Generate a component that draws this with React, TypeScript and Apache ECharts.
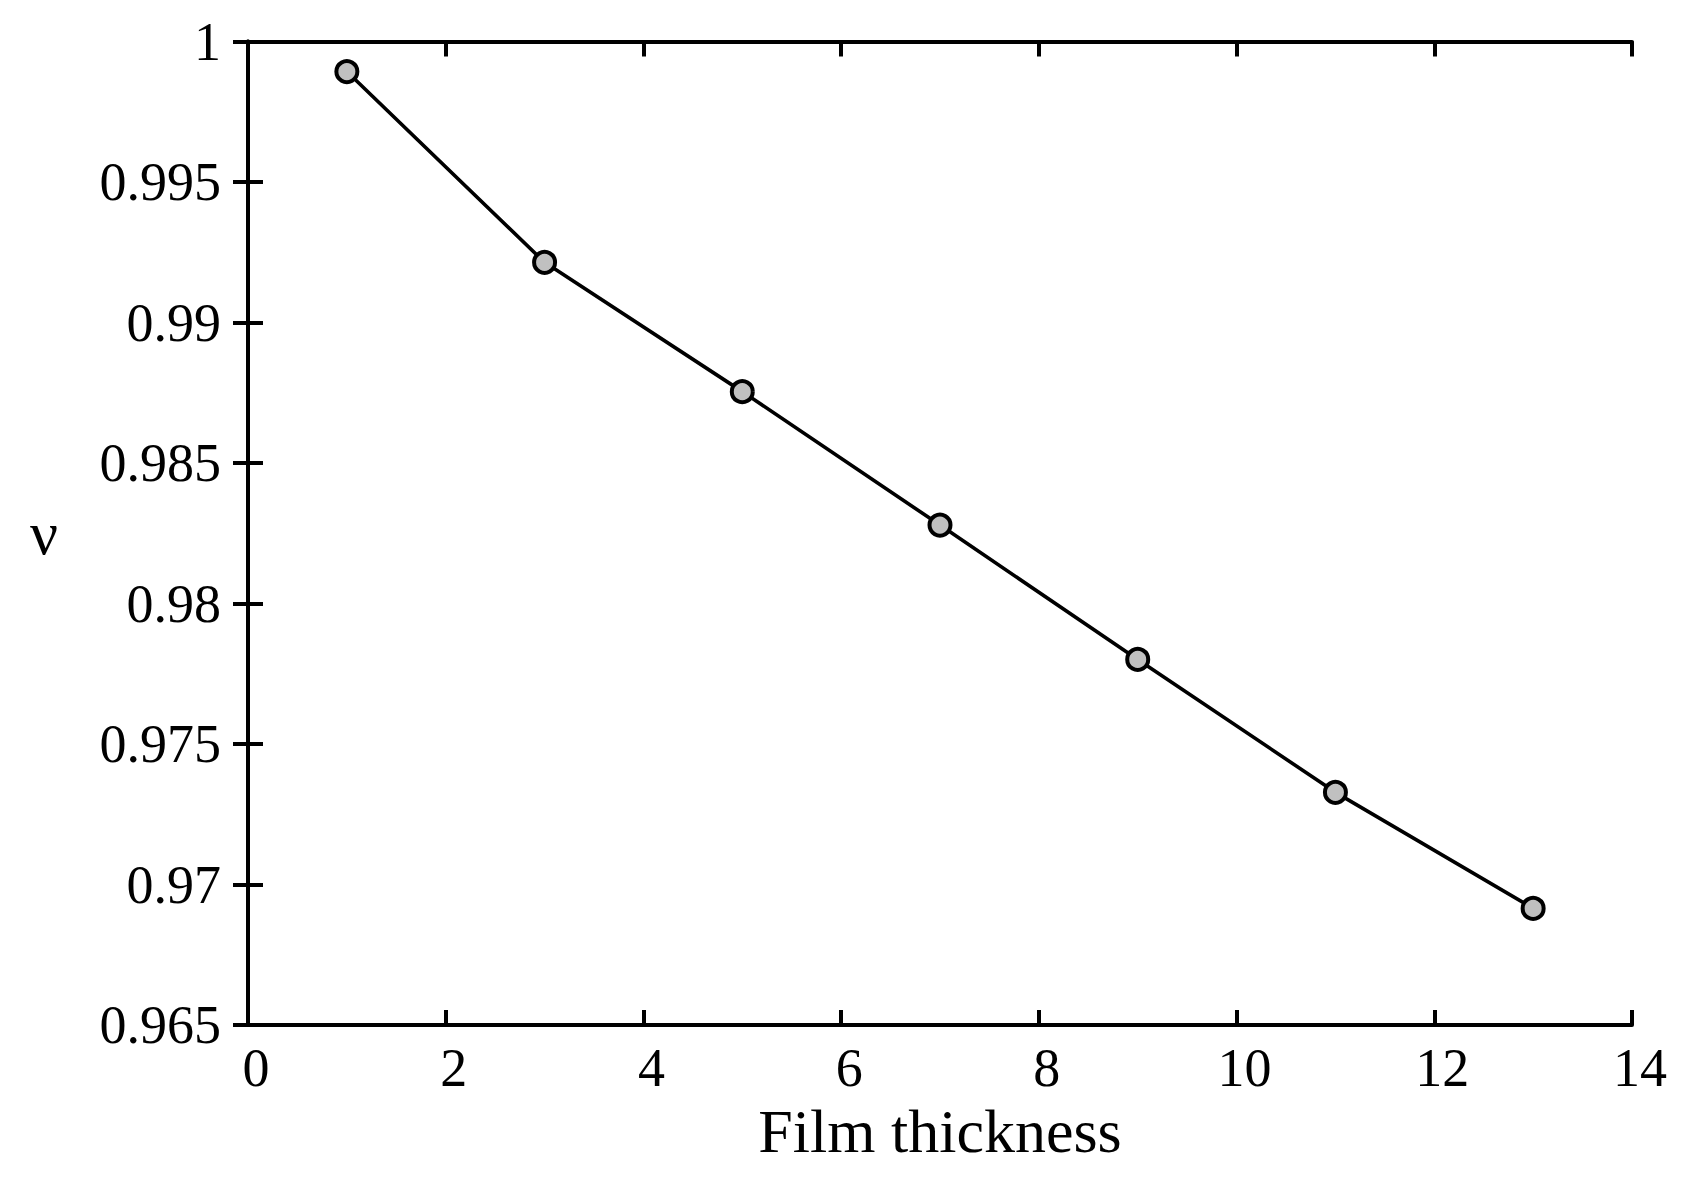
import React, { useEffect, useRef } from "react";
import * as echarts from "echarts";

const filmThickness = [1, 3, 5, 7, 9, 11, 13];
const nuValues = [0.99893, 0.99214, 0.98754, 0.98279, 0.97801, 0.97328, 0.96915];
const xTitle = "Film thickness";
const yTitle = "ν";

const FONT = '"Liberation Serif", "Times New Roman", serif';

export default function App() {
  const ref = useRef<HTMLDivElement>(null);
  useEffect(() => {
    if (!ref.current) return;
    const chart = echarts.init(ref.current, null, { renderer: "svg" });
    const axisLine = { show: true, lineStyle: { color: "#000", width: 4 } };
    const tick = { show: true, inside: true, length: 15, lineStyle: { color: "#000", width: 4 } };
    const fmtY = (v: number) => String(parseFloat(v.toFixed(3)));
    chart.setOption({
      animation: false,
      backgroundColor: "#fff",
      grid: { left: 248, top: 41.5, right: 54, bottom: 159, containLabel: false },
      xAxis: [
        {
          type: "value",
          min: 0,
          max: 14,
          interval: 2,
          position: "bottom",
          axisLine,
          axisTick: tick,
          splitLine: { show: false },
          axisLabel: {
            show: true,
            margin: 43,
            verticalAlign: "middle",
            fontFamily: FONT,
            fontSize: 54,
            color: "#000",
            padding: [0, 0, 0, 16],
          },
          name: xTitle,
          nameLocation: "middle",
          nameGap: 105,
          nameTextStyle: { fontFamily: FONT, fontSize: 62, color: "#000", verticalAlign: "middle" },
        },
        {
          type: "value",
          min: 0,
          max: 14,
          interval: 2,
          position: "top",
          axisLine,
          axisTick: tick,
          splitLine: { show: false },
          axisLabel: { show: false },
        },
      ],
      yAxis: [
        {
          type: "value",
          min: 0.965,
          max: 1,
          interval: 0.005,
          position: "left",
          axisLine,
          axisTick: tick,
          splitLine: { show: false },
          axisLabel: {
            show: true,
            margin: 27,
            fontFamily: FONT,
            fontSize: 54,
            color: "#000",
            formatter: fmtY,
          },
          name: yTitle,
          nameLocation: "middle",
          nameRotate: 0,
          nameGap: 204,
          nameTextStyle: {
            fontFamily: FONT,
            fontSize: 62,
            color: "#000",
            align: "center",
            verticalAlign: "middle",
            padding: [0, 0, 12, 0],
          },
        },
        {
          type: "value",
          min: 0.965,
          max: 1,
          interval: 0.005,
          position: "right",
          axisLine,
          axisTick: tick,
          splitLine: { show: false },
          axisLabel: { show: false },
        },
      ],
      series: [
        {
          type: "line",
          xAxisIndex: 0,
          yAxisIndex: 0,
          data: filmThickness.map((x, i) => [x, nuValues[i]]),
          symbol: "circle",
          symbolSize: 21,
          showSymbol: true,
          lineStyle: { color: "#000", width: 3.6 },
          itemStyle: { color: "#c0c0c0", borderColor: "#000", borderWidth: 4 },
          z: 3,
        },
      ],
    });
    return () => chart.dispose();
  }, []);
  return (
    <div
      ref={ref}
      style={{ position: "fixed", left: 0, top: 0, width: 1686, height: 1184, background: "#fff" }}
    />
  );
}
